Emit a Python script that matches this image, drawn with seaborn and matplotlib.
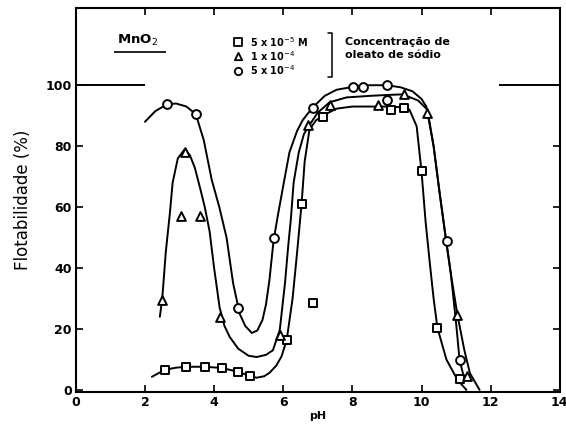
import numpy as np
import pandas as pd
import matplotlib
matplotlib.use("Agg")
import matplotlib.pyplot as plt
import seaborn as sns

sq_ph = [2.57, 3.2, 3.73, 4.22, 4.68, 5.03, 6.1, 6.53, 6.85, 7.14, 9.13, 9.5, 10.0, 10.46, 11.12]
sq_fl = [6.6, 7.6, 7.6, 7.2, 6.0, 4.6, 16.4, 61, 28.6, 89.5, 92, 92.5, 71.7, 20.4, 3.5]

tri_ph = [2.49, 3.03, 3.15, 3.58, 4.16, 5.9, 6.73, 7.34, 8.73, 9.48, 10.17, 11.04, 11.33]
tri_fl = [29.6, 57, 78, 57, 24, 18, 87, 93.5, 93.5, 97, 91, 24.7, 4.6]

cir_ph = [2.63, 3.47, 4.68, 5.72, 6.85, 8.03, 8.3, 9.0, 9.0, 10.75, 11.1]
cir_fl = [93.7, 90.5, 27, 50, 92.5, 99.3, 99.3, 100, 95, 49, 9.8]

# Hand-drawn curves
sq_curve_ph = [2.2, 2.57, 2.9, 3.2, 3.73, 4.22, 4.68, 5.03, 5.23, 5.45, 5.6, 5.8, 5.95,
               6.1, 6.27, 6.4, 6.53, 6.62, 6.76, 6.95, 7.14, 7.54, 8.0, 9.0, 9.4, 9.65,
               9.86, 10.0, 10.12, 10.23, 10.35, 10.46, 10.72, 11.04, 11.3]
sq_curve_fl = [4.3, 6.6, 7.3, 7.6, 7.6, 7.2, 6.0, 4.6, 4.0, 4.5, 5.6, 8, 11,
               16.4, 30, 45, 61, 75, 85.5, 88.5, 90, 92.3, 93, 93, 92.8, 92,
               86.5, 71.7, 55, 42.7, 30, 20.4, 10, 3.3, 0]

tri_curve_ph = [2.43, 2.5, 2.6, 2.72, 2.8, 2.95, 3.15, 3.3, 3.44, 3.6, 3.73, 3.87, 4.0,
                4.16, 4.3, 4.45, 4.7, 5.0, 5.23, 5.5, 5.7, 5.9, 6.05, 6.15, 6.22, 6.3,
                6.45, 6.6, 6.76, 7.0, 7.34, 7.83, 8.5, 9.0, 9.45, 9.9, 10.17, 10.35,
                10.52, 10.7, 10.85, 11.04, 11.24, 11.4, 11.68]
tri_curve_fl = [24, 30, 45, 58, 68, 76, 79, 77, 73, 66, 60, 52, 40,
                27, 21, 17.4, 13.5, 11.2, 10.8, 11.5, 13, 19.7, 35, 48, 56, 68,
                78, 84, 87, 91, 94.4, 96, 96.5, 96.8, 97, 95, 92, 80,
                65, 50, 38, 24.6, 13, 5.5, 0]

cir_curve_ph = [2.0, 2.3, 2.63, 2.9, 3.2, 3.47, 3.7, 3.93, 4.15, 4.36, 4.55, 4.74, 4.9,
                5.09, 5.25, 5.4, 5.5, 5.6, 5.72, 5.84, 6.0, 6.18, 6.4, 6.56, 6.85, 7.2,
                7.54, 8.03, 8.5, 9.0, 9.4, 9.74, 10.0, 10.14, 10.35, 10.52, 10.7, 10.85,
                11.0, 11.1, 11.25]
cir_curve_fl = [88, 91.5, 93.7, 94, 93, 90.5, 82, 69, 60, 50, 35, 25, 21,
                18.7, 19.5, 23, 28, 36, 49, 57, 67, 78, 85, 88.5, 92.7, 96.5,
                98.5, 99.5, 100, 100, 99.3, 98, 95.5, 93, 80, 65, 50, 38,
                22, 10, 3]

ref_level = 100
xticks = [0, 2, 4, 6, 8, 10, 12, 14]
yticks = [0, 20, 40, 60, 80, 100]


def curve_df(ph, fl):
    return pd.DataFrame({"pH": ph, "flot": fl})


sns.set_style("ticks")
plt.rcParams["font.family"] = ["DejaVu Sans"]
plt.rcParams["text.color"] = "black"
plt.rcParams["axes.labelcolor"] = "black"
plt.rcParams["xtick.color"] = "black"
plt.rcParams["ytick.color"] = "black"
plt.rcParams["axes.edgecolor"] = "black"

fig = plt.figure(figsize=(5.66, 4.28), dpi=100)
ax = fig.add_axes([0.134, 0.084, 0.855, 0.897])

line_kw = dict(color="black", linewidth=1.4, sort=False, estimator=None, legend=False)
sns.lineplot(data=curve_df(sq_curve_ph, sq_curve_fl), x="pH", y="flot", ax=ax, **line_kw)
sns.lineplot(data=curve_df(tri_curve_ph, tri_curve_fl), x="pH", y="flot", ax=ax, **line_kw)
sns.lineplot(data=curve_df(cir_curve_ph, cir_curve_fl), x="pH", y="flot", ax=ax, **line_kw)

pt_kw = dict(facecolor="white", edgecolor="black", linewidth=1.4, s=40, zorder=5, legend=False)
sns.scatterplot(x=sq_ph, y=sq_fl, marker="s", ax=ax, **pt_kw)
sns.scatterplot(x=tri_ph, y=tri_fl, marker="^", ax=ax, **pt_kw)
sns.scatterplot(x=cir_ph, y=cir_fl, marker="o", ax=ax, **pt_kw)

# 100 % reference stubs
ax.hlines(ref_level, 0, 2.0, color="black", linewidth=1.4)
ax.hlines(ref_level, 12.25, 14, color="black", linewidth=1.4)

ax.set_xlim(0, 14)
ax.set_ylim(-0.7, 125.3)
ax.set_xticks(xticks)
ax.set_yticks(yticks)
ax.tick_params(direction="in", top=True, right=True, length=5, width=1.2,
               labelsize=9, pad=3, colors="black")
for lab in ax.get_xticklabels() + ax.get_yticklabels():
    lab.set_fontweight("bold")
for sp in ax.spines.values():
    sp.set_linewidth(1.5)
    sp.set_color("black")
    sp.set_visible(True)

ax.set_xlabel("pH", fontsize=8, fontweight="bold", labelpad=1)
ax.set_ylabel("Flotabilidade (%)", fontsize=12, labelpad=10)

# sample label
ax.text(1.2, 114.8, "MnO$_2$", fontsize=9.5, fontweight="bold", va="center")
ax.hlines(110.8, 1.1, 2.6, color="black", linewidth=1.2)

# legend drawn by hand
leg_y = [114.3, 109.6, 104.8]
leg_markers = ["s", "^", "o"]
leg_labels = ["5 x 10$^{-5}$ M", "1 x 10$^{-4}$", "5 x 10$^{-4}$"]
for yy, mk, lb in zip(leg_y, leg_markers, leg_labels):
    ax.scatter([4.7], [yy], marker=mk, s=28, facecolor="white", edgecolor="black",
               linewidth=1.3, zorder=5)
    ax.text(5.05, yy, lb, fontsize=7, fontweight="bold", va="center")
ax.plot([7.3, 7.42, 7.42, 7.3], [117, 117, 102.6, 102.6], color="black", linewidth=1.1)
ax.text(7.8, 114.3, "Concentração de", fontsize=8, fontweight="bold", va="center")
ax.text(7.8, 110.0, "oleato de sódio", fontsize=8, fontweight="bold", va="center")

fig.savefig("out.png", dpi=100)
